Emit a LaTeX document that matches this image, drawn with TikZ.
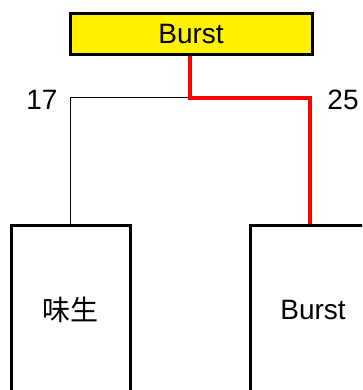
\documentclass[tikz,border=0pt]{standalone}
\usepackage{fontspec}
\setmainfont{Liberation Sans}
\newfontfamily\cjk{Noto Sans CJK SC}
\usepackage{tikz}

\begin{document}
\begin{tikzpicture}[x=1pt,y=-1pt,
  font=\fontsize{28}{32}\selectfont,
  box/.style={draw=black, line width=3pt, inner sep=0pt}]
\useasboundingbox (0,0) rectangle (362,390);
\clip (0,0) rectangle (362,390);
\node[box, fill=yellow, minimum width=242pt, minimum height=41pt] (burst) at (191,34) {Burst};
\node[box, minimum width=119pt, minimum height=170pt] (left) at (70.5,310) {\cjk 味生};
\node[box, minimum width=126pt, minimum height=170pt] (right) at (313,310) {Burst};
\coordinate (mid) at (190,98);
\coordinate (drop) at (310,98);
\draw[line width=1pt] (mid) -| (left.north);
\draw[red, line width=4pt] (burst.south -| mid) -- (mid) -- (drop) -- (drop |- right.north);
\node (n17) at (42,100) {17};
\node (n25) at (343,100) {25};
\end{tikzpicture}
\end{document}
